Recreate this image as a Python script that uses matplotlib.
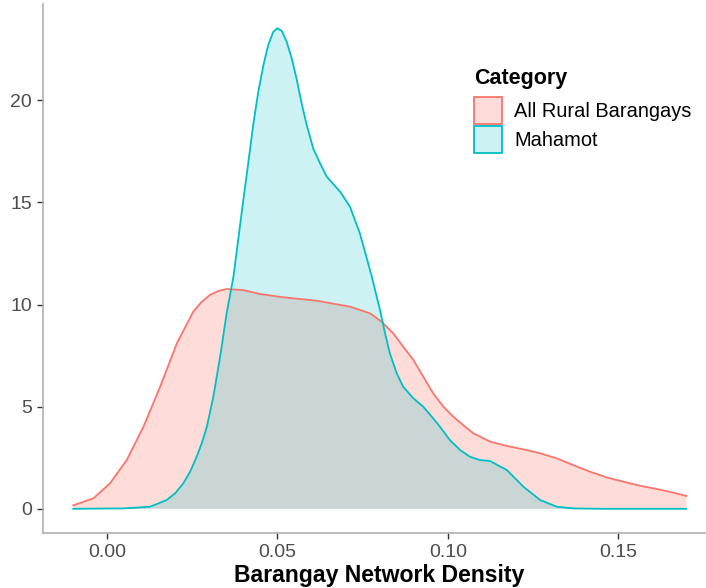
import matplotlib
matplotlib.use("Agg")
import matplotlib.pyplot as plt
from matplotlib.patches import Patch
from matplotlib.colors import to_rgba

plt.rcParams['font.family'] = ['Liberation Sans', 'DejaVu Sans']

categories = ["All Rural Barangays", "Mahamot"]
colors = ["#F8766D", "#00BFC4"]

rural_x = [-0.0099, -0.004, 0.0009, 0.0058, 0.0107, 0.0156, 0.0205, 0.0253, 0.0278, 0.0302,
           0.0327, 0.0351, 0.040, 0.0449, 0.0517, 0.0615, 0.0713, 0.0742, 0.0772, 0.0806,
           0.084, 0.0869, 0.0899, 0.0928, 0.0957, 0.0987, 0.1016, 0.1045, 0.1075, 0.1124,
           0.1173, 0.1222, 0.1271, 0.132, 0.1368, 0.1417, 0.1466, 0.1515, 0.1564, 0.1613,
           0.1662, 0.170]
rural_y = [0.17, 0.51, 1.25, 2.39, 4.02, 5.98, 8.1, 9.65, 10.14, 10.47,
           10.67, 10.76, 10.71, 10.52, 10.36, 10.19, 9.9, 9.74, 9.57, 9.16,
           8.59, 7.94, 7.29, 6.47, 5.66, 5.0, 4.51, 4.10, 3.70, 3.29,
           3.08, 2.91, 2.72, 2.47, 2.14, 1.82, 1.54, 1.33, 1.13, 0.97,
           0.79, 0.63]

mahamot_x = [-0.0099, 0.005, 0.0126, 0.0175, 0.02, 0.0224, 0.0244, 0.0263, 0.0278, 0.0293,
             0.0312, 0.0332, 0.0351, 0.0371, 0.040, 0.0415, 0.0429, 0.0444, 0.0459, 0.0473,
             0.0488, 0.050, 0.0513, 0.0527, 0.0542, 0.0557, 0.0571, 0.0586, 0.0605, 0.0625,
             0.0645, 0.0684, 0.0713, 0.0742, 0.0777, 0.0801, 0.0816, 0.083, 0.085, 0.0869,
             0.0899, 0.0928, 0.0953, 0.0977, 0.1006, 0.1036, 0.1065, 0.1094, 0.1124, 0.1173,
             0.1222, 0.1271, 0.132, 0.1368, 0.145, 0.170]
mahamot_y = [0, 0.02, 0.1, 0.43, 0.76, 1.25, 1.82, 2.55, 3.21, 4.02,
             5.49, 7.45, 9.57, 11.37, 15.12, 17.0, 18.8, 20.43, 21.73, 22.71,
             23.36, 23.53, 23.4, 22.88, 22.06, 21.0, 19.86, 18.8, 17.65, 16.92,
             16.26, 15.53, 14.79, 13.49, 11.37, 9.74, 8.59, 7.61, 6.64, 5.98,
             5.41, 5.0, 4.51, 4.02, 3.37, 2.88, 2.55, 2.39, 2.34, 1.9,
             1.08, 0.43, 0.1, 0.02, 0, 0]

xticks = [0.00, 0.05, 0.10, 0.15]
xticklabels = ["0.00", "0.05", "0.10", "0.15"]
yticks = [0, 5, 10, 15, 20]

fig = plt.figure(figsize=(7.06, 5.88), dpi=100)
ax = fig.add_axes([43/706, (588-532.7)/588, 1 - 43/706, (532.7-4)/588])

series = [(rural_x, rural_y), (mahamot_x, mahamot_y)]
alphas = [0.25, 0.2]
for (xs, ys), c, a in zip(series, colors, alphas):
    ax.fill_between(xs, 0, ys, facecolor=c, alpha=a, linewidth=0)
    ax.plot(xs, ys, color=c, lw=1.3, solid_joinstyle='round')

ax.set_xlim(-0.01878, 0.17576)
ax.set_ylim(-1.17, 24.72)
ax.set_xticks(xticks)
ax.set_xticklabels(xticklabels)
ax.set_yticks(yticks)

for s in ['top', 'right']:
    ax.spines[s].set_visible(False)
for s in ['left', 'bottom']:
    ax.spines[s].set_color('#AAAAAA')
    ax.spines[s].set_linewidth(1.1)

ax.tick_params(axis='both', length=4, width=1.0, color='#333333',
               labelsize=14, labelcolor='#4D4D4D', pad=4)
ax.set_xlabel("Barangay Network Density", fontsize=16.6, fontweight='bold', labelpad=1)
ax.xaxis.set_label_coords((379.5 - 43) / 663, -0.06)
ax.xaxis.label.set_verticalalignment('top')

handles = [Patch(facecolor=to_rgba(c, a), edgecolor=c, linewidth=1.3) for c, a in zip(colors, alphas)]
leg = fig.legend(handles, categories, title="Category", loc='upper left',
                 bbox_to_anchor=(474/706, 1 - 68/588), frameon=False,
                 fontsize=14.4, title_fontproperties={'weight': 'bold', 'size': 15.5},
                 handlelength=1.4, handleheight=1.7, handletextpad=0.6,
                 labelspacing=0.1, borderpad=0, borderaxespad=0, alignment='left')
leg._legend_box.sep = 6

fig.savefig("out.png", dpi=100)
